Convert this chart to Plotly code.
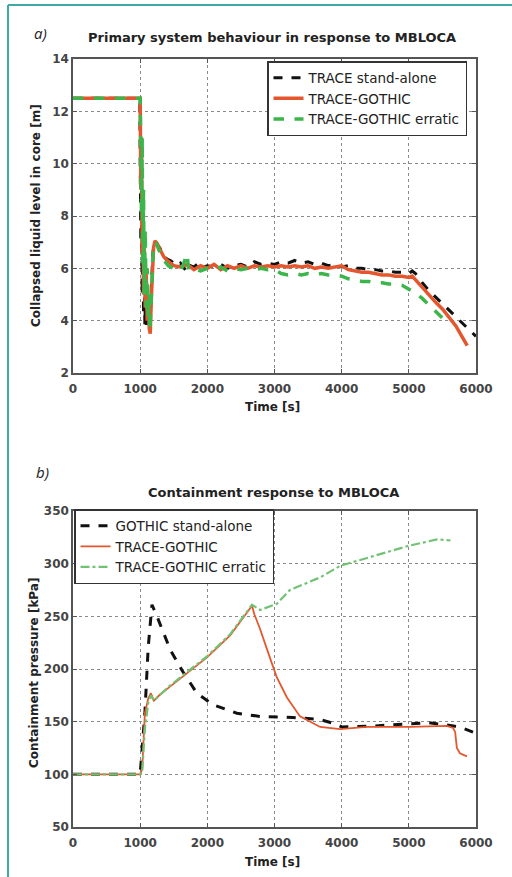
import plotly.graph_objects as go

W, H = 512, 877

# ---------------- Panel a: collapsed liquid level in core [m] ----------------
t_a_trace = [0, 995, 1000, 1010, 1020, 1030, 1040, 1050, 1060, 1070, 1080, 1090, 1100, 1110, 1130, 1150,
             1170, 1190, 1210, 1230, 1260, 1300, 1350, 1400, 1450, 1500, 1550, 1600, 1650, 1700, 1750,
             1800, 1850, 1900, 2000, 2100, 2200, 2300, 2400, 2500, 2600, 2700, 2800, 2900, 3000, 3100,
             3200, 3300, 3400, 3500, 3600, 3700, 3800, 3900, 4000, 4100, 4200, 4300, 4400, 4500, 4600,
             4700, 4800, 4900, 5000, 5050, 5100, 5150, 5200, 5300, 5400, 5500, 5600, 5700, 5800, 5900, 6000]
lvl_trace = [12.5, 12.5, 10.2, 7.0, 9.5, 5.0, 8.0, 4.2, 6.0, 3.8, 5.2, 3.7, 4.6, 3.9, 4.4, 4.0,
             5.5, 6.6, 7.0, 7.05, 6.9, 6.75, 6.5, 6.35, 6.3, 6.2, 6.1, 6.2, 6.0, 5.85, 6.1,
             6.05, 6.15, 6.0, 6.1, 6.05, 6.15, 6.0, 6.1, 6.15, 6.05, 6.25, 6.15, 6.2, 6.15, 6.25,
             6.2, 6.3, 6.2, 6.25, 6.15, 6.2, 6.1, 6.15, 6.05, 6.1, 6.0, 6.0, 5.95, 5.95, 5.9,
             5.9, 5.85, 5.85, 5.8, 5.9, 5.8, 5.6, 5.45, 5.15, 4.9, 4.65, 4.4, 4.15, 3.9, 3.65, 3.4]

t_a_coupled = [0, 995, 1000, 1010, 1020, 1030, 1040, 1050, 1060, 1075, 1090, 1105, 1120, 1135, 1150, 1165,
               1180, 1200, 1220, 1250, 1300, 1350, 1400, 1450, 1500, 1600, 1700, 1800, 1900, 2000, 2100,
               2200, 2300, 2400, 2500, 2600, 2700, 2800, 2900, 3000, 3100, 3200, 3300, 3400, 3500, 3600,
               3700, 3800, 3900, 4000, 4100, 4200, 4300, 4400, 4500, 4600, 4700, 4800, 4900, 5000, 5050,
               5100, 5200, 5300, 5400, 5500, 5600, 5700, 5800, 5870]
lvl_coupled = [12.5, 12.5, 12.5, 9.0, 11.0, 6.5, 8.5, 5.0, 7.0, 4.5, 5.8, 4.0, 5.0, 3.7, 3.5, 4.8,
               6.0, 6.8, 7.05, 6.95, 6.7, 6.45, 6.3, 6.2, 6.1, 6.05, 6.15, 5.95, 6.1, 6.0, 6.15,
               5.95, 6.1, 6.0, 6.1, 6.0, 6.1, 6.05, 6.1, 6.05, 6.1, 6.05, 6.1, 6.05, 6.1, 6.0,
               6.05, 6.0, 6.05, 6.1, 5.95, 5.9, 5.85, 5.85, 5.8, 5.75, 5.75, 5.7, 5.7, 5.65, 5.7,
               5.55, 5.25, 5.0, 4.7, 4.45, 4.15, 3.8, 3.35, 3.05]

t_a_erratic = [0, 995, 1000, 1010, 1020, 1030, 1040, 1050, 1060, 1075, 1090, 1105, 1120, 1135, 1145, 1160,
               1175, 1195, 1215, 1240, 1280, 1320, 1370, 1420, 1500, 1600, 1650, 1700, 1720, 1800, 1900,
               2000, 2100, 2200, 2300, 2400, 2500, 2600, 2700, 2800, 2900, 3000, 3100, 3200, 3300, 3400,
               3500, 3600, 3700, 3800, 3900, 4000, 4100, 4200, 4300, 4400, 4500, 4600, 4700, 4800, 4900,
               5000, 5100, 5200, 5300, 5400, 5500, 5570]
lvl_erratic = [12.5, 12.5, 12.5, 10.5, 8.0, 11.0, 6.0, 9.0, 5.0, 7.5, 4.5, 6.0, 4.0, 5.0, 3.6, 4.5,
               5.8, 6.7, 7.0, 6.95, 6.7, 6.45, 6.25, 6.1, 6.0, 5.9, 6.2, 6.55, 5.95, 6.0, 5.9,
               6.0, 5.95, 6.05, 5.9, 6.0, 5.95, 6.0, 5.95, 6.0, 5.95, 5.95, 5.8, 5.75, 5.8, 5.75,
               5.8, 5.75, 5.8, 5.75, 5.75, 5.7, 5.6, 5.55, 5.5, 5.5, 5.45, 5.45, 5.4, 5.4, 5.35,
               5.2, 5.05, 4.85, 4.6, 4.35, 4.1, 3.85]

# ---------------- Panel b: containment pressure [kPa] ----------------
t_b_gothic = [0, 1000, 1030, 1070, 1120, 1176, 1250, 1340, 1450, 1620, 1845, 2085, 2440, 2780, 3275,
              3680, 3900, 4000, 4500, 5000, 5300, 5660, 5800, 5955, 6000]
p_gothic = [100, 100, 125, 158, 221, 261, 250, 235, 218, 199, 177, 166, 158, 155, 154,
            152, 148, 145, 146, 148, 149, 146, 144, 140, 139]

t_b_coupled = [0, 1000, 1030, 1070, 1120, 1160, 1205, 1300, 1440, 1695, 1995, 2340, 2665, 2700, 2785,
               2930, 3035, 3185, 3380, 3680, 3975, 4375, 5020, 5565, 5660, 5690, 5715, 5760, 5865]
p_coupled = [100, 100, 105, 158, 172, 177, 170, 176, 183, 196, 211, 232, 260, 252, 238,
             211, 192, 173, 155, 145, 143, 145, 145, 146, 144, 140, 125, 120, 117]

t_b_erratic = [0, 1000, 1030, 1070, 1120, 1160, 1205, 1300, 1440, 1695, 1995, 2340, 2665, 2785, 3035,
               3230, 3680, 3980, 4500, 4870, 5000, 5420, 5620]
p_erratic = [100, 100, 102, 143, 168, 175, 170, 176, 184, 197, 212, 233, 261, 256, 262,
             275, 287, 298, 308, 315, 317, 323, 322]

x_ticks = [0, 1000, 2000, 3000, 4000, 5000, 6000]

BLACK = "#111111"
RED = "#e4572e"
GREEN_A = "#3cb54a"
GREEN_B = "#72c274"
TEAL = "#3fa9a3"
FONT = "DejaVu Sans, Liberation Sans, sans-serif"

fig = go.Figure()

fig.add_trace(go.Scatter(x=t_a_trace, y=lvl_trace, mode="lines", name="TRACE stand-alone",
                         line=dict(color=BLACK, width=3, dash="dash"), xaxis="x", yaxis="y", legend="legend"))
fig.add_trace(go.Scatter(x=t_a_coupled, y=lvl_coupled, mode="lines", name="TRACE-GOTHIC",
                         line=dict(color=RED, width=3.5), xaxis="x", yaxis="y", legend="legend"))
fig.add_trace(go.Scatter(x=t_a_erratic, y=lvl_erratic, mode="lines", name="TRACE-GOTHIC erratic",
                         line=dict(color=GREEN_A, width=3.5, dash="dash"), xaxis="x", yaxis="y", legend="legend"))

fig.add_trace(go.Scatter(x=t_b_gothic, y=p_gothic, mode="lines", name="GOTHIC stand-alone",
                         line=dict(color=BLACK, width=3, dash="dash"), xaxis="x2", yaxis="y2", legend="legend2"))
fig.add_trace(go.Scatter(x=t_b_coupled, y=p_coupled, mode="lines", name="TRACE-GOTHIC",
                         line=dict(color=RED, width=1.8), xaxis="x2", yaxis="y2", legend="legend2"))
fig.add_trace(go.Scatter(x=t_b_erratic, y=p_erratic, mode="lines", name="TRACE-GOTHIC erratic",
                         line=dict(color=GREEN_B, width=2.2, dash="dashdot"), xaxis="x2", yaxis="y2", legend="legend2"))

tickfont = dict(family=FONT, size=12, color="#444", weight="bold")
common_axis = dict(showline=True, linecolor="#555", linewidth=1.5, mirror="ticks", ticks="inside",
                   ticklen=4, tickcolor="#555", showgrid=True, gridcolor="#8a8a8a", griddash="dot",
                   gridwidth=1, zeroline=False, tickfont=tickfont, automargin=False)

def fy(y):
    return 1 - y / H

def fx(x):
    return x / W

xdom = [fx(73), fx(476)]
legfont = dict(family=FONT, size=13.5, color="#222")
fig.update_layout(
    width=W, height=H,
    margin=dict(l=0, r=0, t=0, b=0),
    paper_bgcolor="white", plot_bgcolor="white",
    xaxis=dict(domain=xdom, range=[0, 6000], tickvals=x_ticks, anchor="y", ticklabelstandoff=4, **common_axis),
    yaxis=dict(domain=[fy(373), fy(59)], range=[2, 14], dtick=2, anchor="x", **common_axis),
    xaxis2=dict(domain=xdom, range=[0, 6000], tickvals=x_ticks, anchor="y2", ticklabelstandoff=4, **common_axis),
    yaxis2=dict(domain=[fy(827), fy(511)], range=[50, 350], dtick=50, anchor="x2", **common_axis),
    legend=dict(x=fx(267), y=fy(61), xanchor="left", yanchor="top", bgcolor="white",
                bordercolor="#333", borderwidth=1.5, font=legfont),
    legend2=dict(x=fx(74), y=fy(509), xanchor="left", yanchor="top", bgcolor="white",
                 bordercolor="#333", borderwidth=1.5, font=legfont),
    showlegend=True,
)

bold = dict(family=FONT, size=13, color="#222", weight="bold")
axt = dict(family=FONT, size=12, color="#222", weight="bold")
ital = dict(family="Open Sans, Liberation Sans, sans-serif", size=15, color="#222", style="italic")
annots = [
    dict(text="a)", x=fx(40), y=fy(33), font=ital),
    dict(text="b)", x=fx(42), y=fy(472), font=ital),
    dict(text="Primary system behaviour in response to MBLOCA", x=fx(272), y=fy(38), font=bold),
    dict(text="Containment response to MBLOCA", x=fx(273), y=fy(492), font=bold),
    dict(text="Time [s]", x=fx(272), y=fy(407), font=axt),
    dict(text="Time [s]", x=fx(272), y=fy(862), font=axt),
    dict(text="Collapsed liquid level in core [m]", x=fx(36), y=fy(216), font=axt, textangle=-90),
    dict(text="Containment pressure [kPa]", x=fx(34), y=fy(673), font=axt, textangle=-90),
]
for a in annots:
    fig.add_annotation(xref="paper", yref="paper", showarrow=False, xanchor="center", yanchor="middle", **a)

# teal frame of the figure panel
fig.add_shape(type="line", xref="paper", yref="paper", x0=fx(8), x1=fx(8), y0=0, y1=fy(5),
              line=dict(color=TEAL, width=2))
fig.add_shape(type="line", xref="paper", yref="paper", x0=fx(8), x1=1, y0=fy(5), y1=fy(5),
              line=dict(color=TEAL, width=2))

fig.write_html("out.html", config={"displayModeBar": False},
               post_script="document.body.style.margin='0';document.body.style.padding='0';"
                           "document.documentElement.style.overflow='hidden';")
